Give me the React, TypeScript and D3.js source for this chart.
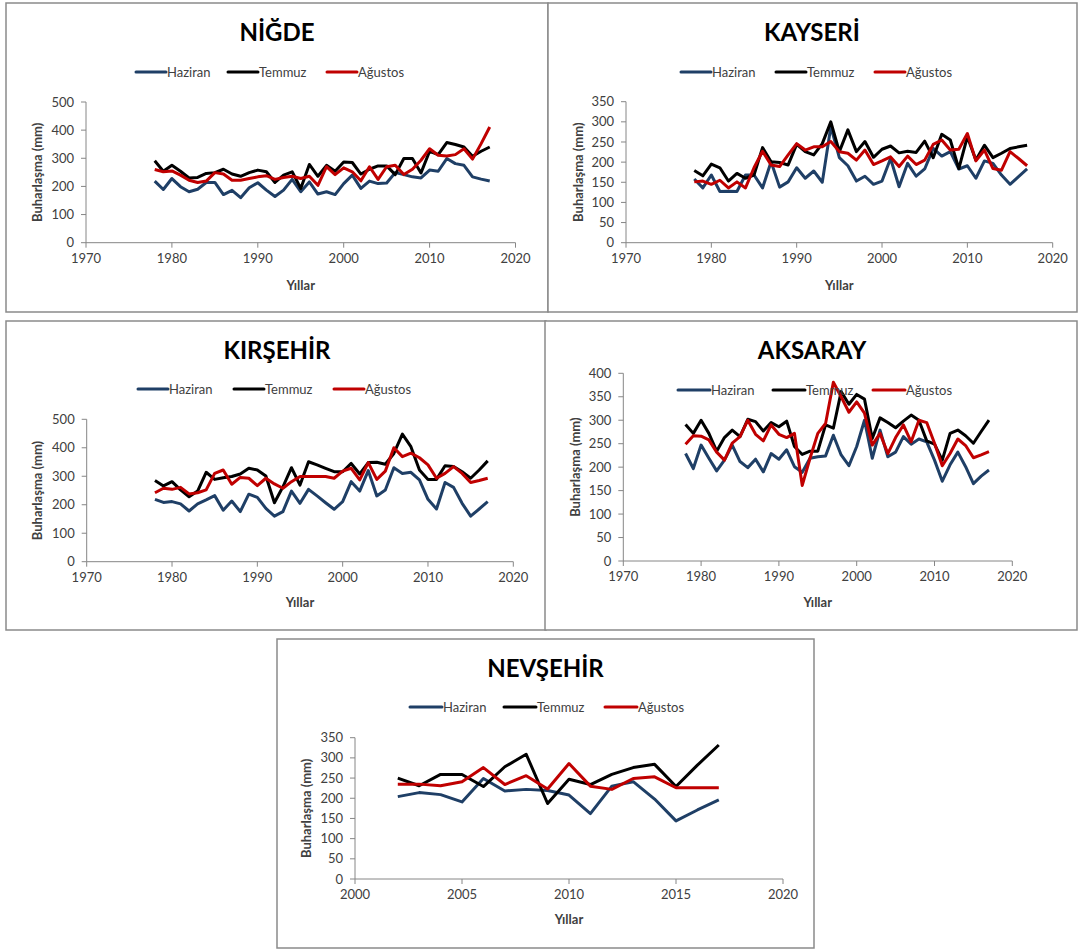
import React from "react";
import * as d3 from "d3";

const years7817 = [1978, 1979, 1980, 1981, 1982, 1983, 1984, 1985, 1986, 1987, 1988, 1989, 1990, 1991, 1992, 1993, 1994, 1995, 1996, 1997, 1998, 1999, 2000, 2001, 2002, 2003, 2004, 2005, 2006, 2007, 2008, 2009, 2010, 2011, 2012, 2013, 2014, 2015, 2016, 2017];
const years0217 = [2002, 2003, 2004, 2005, 2006, 2007, 2008, 2009, 2010, 2011, 2012, 2013, 2014, 2015, 2016, 2017];

const seriesNames = ["Haziran", "Temmuz", "Ağustos"];

// NİĞDE
const nigdeHaziran = [219, 189, 228, 199, 181, 190, 214, 214, 171, 186, 160, 195, 213, 187, 164, 187, 225, 181, 216, 173, 181, 171, 210, 240, 193, 219, 210, 212, 249, 242, 234, 230, 258, 254, 299, 281, 275, 234, 226, 219];
const nigdeTemmuz = [291, 254, 275, 254, 230, 232, 246, 249, 261, 244, 236, 249, 258, 252, 214, 240, 252, 193, 278, 236, 275, 254, 287, 285, 244, 261, 273, 273, 242, 299, 299, 248, 325, 313, 356, 349, 340, 307, 325, 340];
const nigdeAgustos = [260, 252, 255, 240, 222, 214, 219, 249, 244, 222, 222, 228, 234, 238, 225, 232, 236, 228, 236, 204, 270, 242, 266, 252, 220, 270, 225, 270, 275, 242, 261, 293, 334, 311, 308, 313, 334, 297, 352, 411];

// KAYSERİ
const kayseriHaziran = [158, 136, 168, 127, 128, 127, 168, 168, 136, 201, 138, 151, 186, 160, 178, 150, 288, 211, 191, 153, 165, 145, 153, 209, 139, 197, 165, 183, 234, 215, 226, 183, 191, 160, 203, 197, 168, 145, 164, 183];
const kayseriTemmuz = [179, 166, 195, 186, 153, 172, 160, 168, 236, 201, 199, 193, 244, 226, 218, 246, 300, 226, 280, 226, 251, 212, 232, 240, 223, 227, 224, 252, 211, 269, 255, 184, 263, 205, 242, 211, 222, 234, 238, 242];
const kayseriAgustos = [151, 153, 145, 155, 136, 151, 136, 186, 227, 193, 189, 218, 246, 230, 238, 238, 251, 226, 222, 205, 230, 194, 203, 213, 189, 215, 194, 205, 244, 255, 230, 232, 271, 203, 230, 184, 180, 226, 209, 191];

// KIRŞEHİR
const kirsehirHaziran = [219, 208, 211, 203, 178, 203, 217, 232, 181, 213, 176, 237, 226, 187, 160, 176, 248, 205, 254, 231, 207, 184, 211, 281, 248, 320, 231, 252, 330, 310, 314, 287, 219, 185, 278, 261, 205, 160, 185, 211];
const kirsehirTemmuz = [285, 266, 281, 252, 228, 248, 314, 289, 295, 299, 308, 328, 322, 301, 207, 263, 330, 269, 351, 340, 328, 316, 316, 345, 308, 348, 349, 342, 380, 448, 404, 322, 289, 289, 337, 334, 316, 293, 322, 354];
const kirsehirAgustos = [242, 258, 254, 261, 238, 242, 252, 310, 322, 272, 296, 293, 267, 293, 273, 258, 281, 299, 299, 299, 299, 293, 318, 328, 287, 348, 289, 318, 400, 369, 381, 365, 340, 293, 310, 334, 310, 278, 285, 293];

// AKSARAY
const aksarayHaziran = [229, 197, 247, 219, 192, 215, 247, 212, 199, 217, 190, 229, 217, 237, 201, 189, 219, 222, 224, 268, 226, 203, 244, 300, 219, 279, 222, 232, 265, 249, 260, 254, 215, 170, 205, 232, 201, 165, 181, 194];
const aksarayTemmuz = [291, 272, 300, 272, 234, 263, 279, 265, 302, 297, 277, 295, 286, 298, 244, 227, 234, 234, 290, 283, 361, 334, 355, 345, 261, 305, 295, 284, 298, 311, 300, 256, 249, 215, 272, 279, 267, 251, 276, 300];
const aksarayAgustos = [249, 267, 266, 258, 232, 215, 251, 265, 300, 270, 256, 290, 270, 263, 272, 161, 219, 272, 293, 381, 350, 317, 339, 315, 247, 272, 229, 263, 290, 254, 300, 295, 251, 203, 229, 260, 246, 220, 226, 233];

// NEVŞEHİR
const nevsehirHaziran = [204, 214, 209, 191, 249, 218, 222, 219, 208, 162, 230, 241, 198, 144, 171, 196];
const nevsehirTemmuz = [250, 231, 259, 259, 229, 278, 309, 187, 247, 234, 259, 276, 284, 229, 282, 332];
const nevsehirAgustos = [235, 235, 231, 241, 276, 234, 256, 223, 286, 230, 222, 249, 253, 226, 226, 226];

const yTicks500 = [0, 100, 200, 300, 400, 500];
const yTicks350 = [0, 50, 100, 150, 200, 250, 300, 350];
const yTicks400 = [0, 50, 100, 150, 200, 250, 300, 350, 400];
const xTicks7020 = [1970, 1980, 1990, 2000, 2010, 2020];
const xTicks0020 = [2000, 2005, 2010, 2015, 2020];

const COLORS = ["#1f3f66", "#000000", "#c00000"];
const FONT = "Lato, 'Open Sans', 'Liberation Sans', sans-serif";
const TXT = "#404040";
const AXIS = "#868686";

type PanelCfg = {
  title: string;
  frame: [number, number, number, number];
  titleX: number;
  titleY: number;
  legendY: number;
  legendX: number[];
  legendLen: number;
  plot: { l: number; r: number; t: number; b: number };
  xDomain: [number, number];
  xTicks: number[];
  yDomain: [number, number];
  yTicks: number[];
  ylabelX: number;
  xlabelY: number;
  years: number[];
  series: number[][];
};

const panels: PanelCfg[] = [
  {
    title: "NİĞDE", frame: [6, 3, 542, 309], titleX: 277, titleY: 41, legendY: 72, legendX: [136, 228, 327], legendLen: 30,
    plot: { l: 86, r: 515.5, t: 102, b: 242.7 }, xDomain: [1970, 2020], xTicks: xTicks7020, yDomain: [0, 500], yTicks: yTicks500,
    ylabelX: 37, xlabelY: 290, years: years7817, series: [nigdeHaziran, nigdeTemmuz, nigdeAgustos],
  },
  {
    title: "KAYSERİ", frame: [548, 3, 529, 309], titleX: 812, titleY: 41, legendY: 72, legendX: [681, 776, 875], legendLen: 30,
    plot: { l: 626, r: 1052.7, t: 101.7, b: 242.7 }, xDomain: [1970, 2020], xTicks: xTicks7020, yDomain: [0, 350], yTicks: yTicks350,
    ylabelX: 578, xlabelY: 290, years: years7817, series: [kayseriHaziran, kayseriTemmuz, kayseriAgustos],
  },
  {
    title: "KIRŞEHİR", frame: [6, 321, 540, 309], titleX: 277, titleY: 359, legendY: 389, legendX: [138, 234, 334], legendLen: 30,
    plot: { l: 86.7, r: 513.3, t: 419.3, b: 561.7 }, xDomain: [1970, 2020], xTicks: xTicks7020, yDomain: [0, 500], yTicks: yTicks500,
    ylabelX: 37, xlabelY: 607, years: years7817, series: [kirsehirHaziran, kirsehirTemmuz, kirsehirAgustos],
  },
  {
    title: "AKSARAY", frame: [545, 321, 532, 309], titleX: 812, titleY: 359, legendY: 390, legendX: [678, 773, 873], legendLen: 32,
    plot: { l: 623.3, r: 1012.3, t: 373.3, b: 561 }, xDomain: [1970, 2020], xTicks: xTicks7020, yDomain: [0, 400], yTicks: yTicks400,
    ylabelX: 575, xlabelY: 607, years: years7817, series: [aksarayHaziran, aksarayTemmuz, aksarayAgustos],
  },
  {
    title: "NEVŞEHİR", frame: [277, 639, 537, 309], titleX: 545.5, titleY: 677, legendY: 707, legendX: [410, 504, 605], legendLen: 32,
    plot: { l: 355, r: 783, t: 737.7, b: 879 }, xDomain: [2000, 2020], xTicks: xTicks0020, yDomain: [0, 350], yTicks: yTicks350,
    ylabelX: 306, xlabelY: 924, years: years0217, series: [nevsehirHaziran, nevsehirTemmuz, nevsehirAgustos],
  },
];

function Panel({ cfg }: { cfg: PanelCfg }) {
  const { plot } = cfg;
  const x = d3.scaleLinear().domain(cfg.xDomain).range([plot.l, plot.r]);
  const y = d3.scaleLinear().domain(cfg.yDomain).range([plot.b, plot.t]);
  const line = d3
    .line<[number, number]>()
    .x((d) => x(d[0]))
    .y((d) => y(d[1]));
  const [fx, fy, fw, fh] = cfg.frame;
  return (
    <g>
      <rect x={fx} y={fy} width={fw} height={fh} fill="#fff" stroke="#8a8a8a" strokeWidth={1.5} />
      <text x={cfg.titleX} y={cfg.titleY} textAnchor="middle" fontFamily={FONT} fontWeight="bold" fontSize={24} fill="#000">
        {cfg.title}
      </text>
      <line x1={plot.l} x2={plot.l} y1={y(cfg.yDomain[1])} y2={plot.b} stroke={AXIS} strokeWidth={1} />
      {cfg.yTicks.map((t) => (
        <g key={"y" + t}>
          <line x1={plot.l - 5} x2={plot.l} y1={y(t)} y2={y(t)} stroke={AXIS} strokeWidth={1} />
          <text x={plot.l - 12} y={y(t)} dy="0.35em" textAnchor="end" fontFamily={FONT} fontSize={13} fill={TXT}>
            {t}
          </text>
        </g>
      ))}
      <line x1={plot.l} x2={x(cfg.xDomain[1])} y1={plot.b} y2={plot.b} stroke={AXIS} strokeWidth={1} />
      {cfg.xTicks.map((t) => (
        <g key={"x" + t}>
          <line x1={x(t)} x2={x(t)} y1={plot.b} y2={plot.b + 5} stroke={AXIS} strokeWidth={1} />
          <text x={x(t)} y={plot.b + 20} textAnchor="middle" fontFamily={FONT} fontSize={13} fill={TXT}>
            {t}
          </text>
        </g>
      ))}
      <text
        transform={`translate(${cfg.ylabelX},${(plot.t + plot.b) / 2}) rotate(-90)`}
        textAnchor="middle"
        dy="0.35em"
        fontFamily={FONT}
        fontWeight="bold"
        fontSize={13}
        fill={TXT}
      >
        Buharlaşma (mm)
      </text>
      <text x={(plot.l + x(cfg.xDomain[1])) / 2} y={cfg.xlabelY} textAnchor="middle" fontFamily={FONT} fontWeight="bold" fontSize={13} fill={TXT}>
        Yıllar
      </text>
      {cfg.series.map((s, i) => (
        <path
          key={"s" + i}
          d={line(cfg.years.map((yr, j) => [yr, s[j]] as [number, number])) || ""}
          fill="none"
          stroke={COLORS[i]}
          strokeWidth={3}
          strokeLinejoin="round"
        />
      ))}
      {seriesNames.map((n, i) => (
        <g key={"l" + i}>
          <line x1={cfg.legendX[i]} x2={cfg.legendX[i] + cfg.legendLen} y1={cfg.legendY} y2={cfg.legendY} stroke={COLORS[i]} strokeWidth={3} strokeLinecap="round" />
          <text x={cfg.legendX[i] + cfg.legendLen + 1} y={cfg.legendY} dy="0.35em" fontFamily={FONT} fontSize={13} fill={TXT}>
            {n}
          </text>
        </g>
      ))}
    </g>
  );
}

export default function App() {
  return (
    <svg width={1078} height={949} style={{ position: "absolute", left: 0, top: 0, background: "#fff" }}>
      <rect x={0} y={0} width={1078} height={949} fill="#fff" />
      {panels.map((p) => (
        <Panel key={p.title} cfg={p} />
      ))}
    </svg>
  );
}
